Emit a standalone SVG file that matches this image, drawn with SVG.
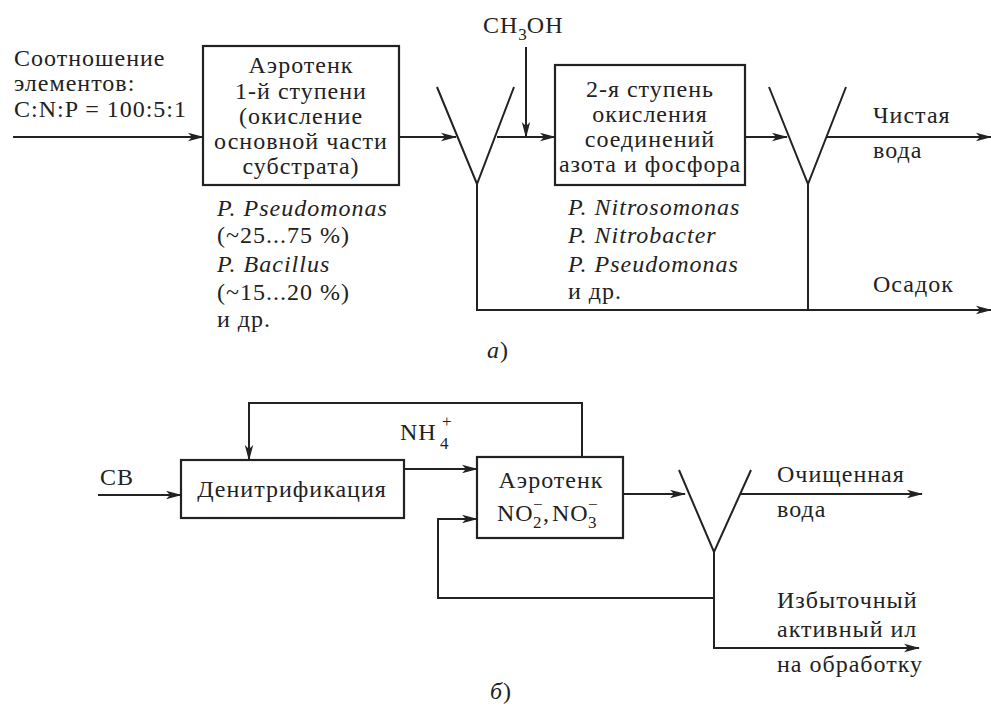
<svg xmlns="http://www.w3.org/2000/svg" width="991" height="706" viewBox="0 0 991 706">
  <defs>
    <marker id="arr" viewBox="0 0 16 10" refX="15" refY="5" markerWidth="16" markerHeight="10" markerUnits="userSpaceOnUse" orient="auto">
      <path d="M0,0.8 L16,5 L0,9.2 L4,5 Z" fill="#222"/>
    </marker>
    <style>
      .ln { fill: none; stroke: #222; stroke-width: 2; }
      .ar { fill: none; stroke: #222; stroke-width: 2; marker-end: url(#arr); }
      .bx { fill: #fff; stroke: #222; stroke-width: 2.2; }
      text { font-family: "Liberation Serif", "Times New Roman", serif; font-size: 24px; letter-spacing: 1px; fill: #222; }
      .c { text-anchor: middle; }
      .i { font-style: italic; }
      .sub { font-size: 17px; letter-spacing: 0; }
    </style>
  </defs>

  <rect width="991" height="706" fill="#fff"/>

  <!-- Scheme a: two-stage aeration -->
  <g id="connectors-a">
    <line class="ar" x1="13" y1="137" x2="203" y2="137"/>
    <line class="ar" x1="399" y1="137" x2="456" y2="137"/>
    <line class="ar" x1="497" y1="137" x2="555" y2="137"/>
    <line class="ar" x1="526" y1="47" x2="526" y2="137"/>
    <line class="ar" x1="745" y1="137" x2="787" y2="137"/>
    <line class="ar" x1="827" y1="137" x2="991" y2="137"/>
    <polyline class="ar" points="477,184 477,310 991,310"/>
    <line class="ln" x1="808" y1="184" x2="808" y2="310"/>
  </g>

  <g id="feed-label">
    <text x="14" y="66">Соотношение</text>
    <text x="14" y="91">элементов:</text>
    <text x="14" y="117">C:N:P = 100:5:1</text>
  </g>

  <g id="aerotank-1">
    <rect class="bx" x="203" y="46" width="196" height="139"/>
    <text class="c" x="301" y="73">Аэротенк</text>
    <text class="c" x="301" y="99">1-й ступени</text>
    <text class="c" x="301" y="124">(окисление</text>
    <text class="c" x="301" y="149">основной части</text>
    <text class="c" x="301" y="174">субстрата)</text>
  </g>

  <g id="microbes-1">
    <text class="i" x="217" y="216">P. Pseudomonas</text>
    <text x="217" y="243">(~25...75 %)</text>
    <text class="i" x="217" y="272">P. Bacillus</text>
    <text x="217" y="300">(~15...20 %)</text>
    <text x="217" y="327">и др.</text>
  </g>

  <g id="settler-1">
    <polyline class="ln" points="437,87 477,184 514,87"/>
  </g>

  <g id="methanol">
    <text x="483" y="33">CH<tspan class="sub" dy="7">3</tspan><tspan dy="-7">OH</tspan></text>
  </g>

  <g id="stage-2">
    <rect class="bx" x="555" y="65" width="190" height="120"/>
    <text class="c" x="650" y="97">2-я ступень</text>
    <text class="c" x="650" y="122">окисления</text>
    <text class="c" x="650" y="147">соединений</text>
    <text class="c" x="650" y="172">азота и фосфора</text>
  </g>

  <g id="microbes-2">
    <text class="i" x="568" y="215">P. Nitrosomonas</text>
    <text class="i" x="568" y="243">P. Nitrobacter</text>
    <text class="i" x="568" y="272">P. Pseudomonas</text>
    <text x="568" y="299">и др.</text>
  </g>

  <g id="settler-2">
    <polyline class="ln" points="769,87 808,184 846,87"/>
  </g>

  <g id="outputs-a">
    <text x="873" y="123">Чистая</text>
    <text x="873" y="158">вода</text>
    <text x="873" y="292">Осадок</text>
  </g>

  <text class="i" x="487" y="358">a<tspan font-style="normal">)</tspan></text>

  <!-- Scheme б: denitrification with recycle -->
  <g id="connectors-b">
    <polyline class="ar" points="582,457 582,403 249,403 249,460"/>
    <line class="ar" x1="98" y1="495" x2="181" y2="495"/>
    <line class="ar" x1="404" y1="469" x2="477" y2="469"/>
    <line class="ar" x1="623" y1="494" x2="685" y2="494"/>
    <line class="ar" x1="740" y1="494" x2="922" y2="494"/>
    <polyline class="ar" points="714,552 714,648 919,648"/>
    <polyline class="ar" points="714,598 438,598 438,519 477,519"/>
  </g>

  <g id="influent">
    <text x="100" y="485">СВ</text>
  </g>

  <g id="denitrification">
    <rect class="bx" x="181" y="460" width="223" height="58"/>
    <text class="c" x="292" y="497">Денитрификация</text>
  </g>

  <g id="ammonium">
    <text x="400" y="440">NH</text>
    <text class="sub" x="440" y="449">4</text>
    <text class="sub" x="442" y="427">+</text>
  </g>

  <g id="aerotank-2">
    <rect class="bx" x="477" y="457" width="146" height="81"/>
    <text class="c" x="551" y="488">Аэротенк</text>
    <text x="497" y="521">NO</text>
    <text class="sub" x="533" y="528">2</text>
    <text class="sub" x="533" y="510">−</text>
    <text x="543" y="521">,</text>
    <text x="552" y="521">NO</text>
    <text class="sub" x="588" y="528">3</text>
    <text class="sub" x="588" y="510">−</text>
  </g>

  <g id="settler-3">
    <polyline class="ln" points="679,470 714,552 751,470"/>
  </g>

  <g id="outputs-b">
    <text x="777" y="482">Очищенная</text>
    <text x="777" y="517">вода</text>
    <text x="777" y="608">Избыточный</text>
    <text x="777" y="637">активный ил</text>
    <text x="777" y="672">на обработку</text>
  </g>

  <text class="i" x="490" y="699">б<tspan font-style="normal">)</tspan></text>
</svg>
